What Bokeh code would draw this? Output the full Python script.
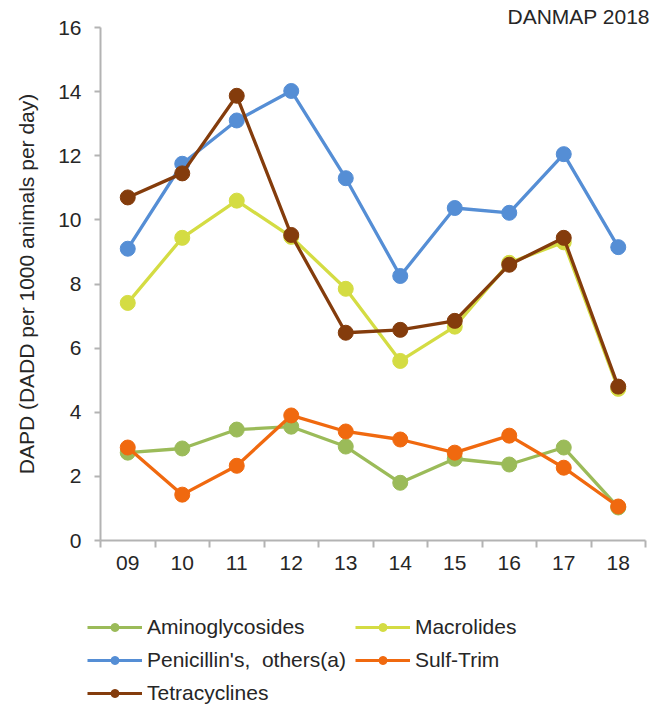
from bokeh.plotting import figure
from bokeh.models import Range1d, FixedTicker, Legend, LegendItem
from bokeh.layouts import column
from bokeh.embed import file_html
from bokeh.resources import INLINE

years = ["09", "10", "11", "12", "13", "14", "15", "16", "17", "18"]
aminoglycosides = [2.74, 2.87, 3.46, 3.55, 2.93, 1.80, 2.55, 2.37, 2.90, 1.03]
macrolides = [7.41, 9.44, 10.60, 9.47, 7.85, 5.60, 6.67, 8.66, 9.30, 4.73]
penicillins = [9.10, 11.75, 13.10, 14.02, 11.30, 8.25, 10.37, 10.22, 12.05, 9.15]
sulf_trim = [2.90, 1.43, 2.33, 3.90, 3.40, 3.15, 2.74, 3.27, 2.27, 1.06]
tetracyclines = [10.70, 11.45, 13.87, 9.53, 6.48, 6.57, 6.85, 8.60, 9.44, 4.80]
y_ticks = [0, 2, 4, 6, 8, 10, 12, 14, 16]

series = [
    ("Aminoglycosides", aminoglycosides, "#9bbb59"),
    ("Macrolides", macrolides, "#d4dc43"),
    ("Penicillin's,  others(a)", penicillins, "#558ed5"),
    ("Sulf-Trim", sulf_trim, "#f0690f"),
    ("Tetracyclines", tetracyclines, "#843c0c"),
]

FONT = "Liberation Sans"
TXT = "#262626"
AX = "#b3b3b3"
FS = "21px"

xs = [i + 0.5 for i in range(len(years))]

# ---- main chart ----
p = figure(width=667, height=590, output_backend="svg", toolbar_location=None,
           x_range=Range1d(0, len(years)), y_range=Range1d(0, 16))
p.min_border_left = 100
p.min_border_right = 22
p.min_border_top = 27
p.min_border_bottom = 50
p.outline_line_color = None
p.grid.visible = False

p.title.text = "DANMAP 2018"
p.title.align = "left"
p.title.text_font = FONT
p.title.text_font_size = FS
p.title.text_font_style = "normal"
p.title.text_color = TXT
p.title.standoff = 0
p.title.offset = 407

xa = p.xaxis[0]
xa.ticker = FixedTicker(ticks=xs, minor_ticks=list(range(len(years) + 1)))
xa.major_label_overrides = {x: y for x, y in zip(xs, years)}
xa.major_tick_line_color = None
xa.minor_tick_line_color = AX
xa.minor_tick_line_width = 2
xa.minor_tick_out = 7
xa.minor_tick_in = 0
xa.axis_line_color = AX
xa.axis_line_width = 2
xa.major_label_text_font = FONT
xa.major_label_text_font_size = FS
xa.major_label_text_color = TXT
xa.major_label_standoff = 8

ya = p.yaxis[0]
ya.ticker = FixedTicker(ticks=y_ticks)
ya.minor_tick_line_color = None
ya.major_tick_line_color = AX
ya.major_tick_line_width = 2
ya.major_tick_out = 6
ya.major_tick_in = 0
ya.axis_line_color = AX
ya.axis_line_width = 2
ya.major_label_text_font = FONT
ya.major_label_text_font_size = FS
ya.major_label_text_color = TXT
ya.major_label_standoff = 13
ya.axis_label = "DAPD (DADD per 1000 animals per day)"
ya.axis_label_text_font = FONT
ya.axis_label_text_font_size = FS
ya.axis_label_text_font_style = "normal"
ya.axis_label_text_color = TXT
ya.axis_label_standoff = 17

for name, vals, col in series:
    p.line(xs, vals, line_color=col, line_width=3.3)
    p.scatter(xs, vals, size=15, fill_color=col, line_color=col)

# ---- legend strip ----
lg = figure(width=667, height=116, output_backend="svg", toolbar_location=None,
            x_range=Range1d(0, 1), y_range=Range1d(100, 101),
            x_axis_type=None, y_axis_type=None)
lg.min_border_left = 0
lg.min_border_right = 0
lg.min_border_top = 0
lg.min_border_bottom = 0
lg.outline_line_color = None
lg.grid.visible = False

items = []
for name, vals, col in series:
    r1 = lg.line(xs, vals, line_color=col, line_width=3)
    r2 = lg.scatter(xs, vals, size=13, fill_color=col, line_color=col)
    items.append(LegendItem(label=name, renderers=[r1, r2]))

legend = Legend(items=items, orientation="horizontal", ncols=2,
                location=(87, 1), padding=0, margin=0,
                border_line_color=None, background_fill_alpha=0,
                label_text_font=FONT, label_text_font_size=FS,
                label_text_color=TXT, glyph_width=55, glyph_height=20,
                label_height=20, spacing=9, label_standoff=5)
lg.add_layout(legend, "center")

layout = column(p, column(lg), spacing=0)
open("out.html", "w").write(file_html(layout, INLINE))
